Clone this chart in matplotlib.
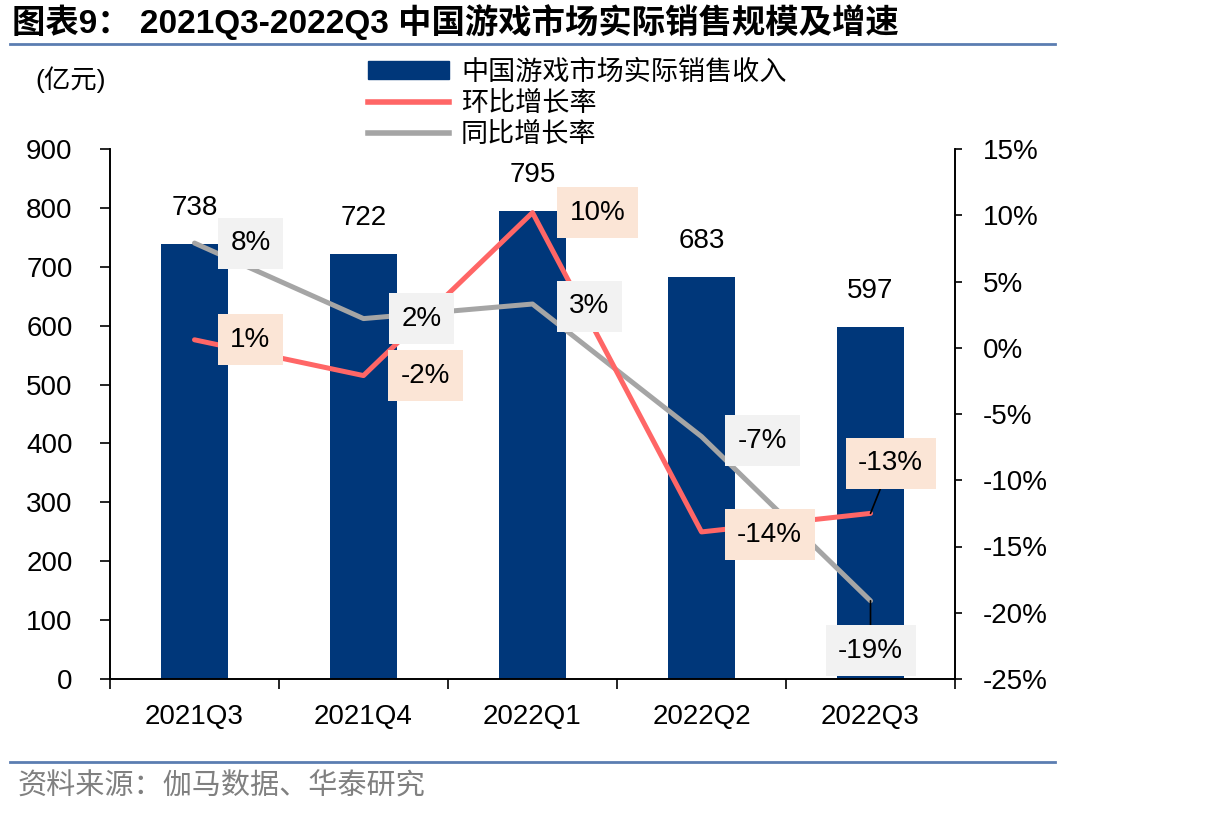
import matplotlib
matplotlib.use("Agg")
import matplotlib.pyplot as plt
from matplotlib.patches import Patch
from matplotlib.lines import Line2D
import numpy as np

plt.rcParams['font.family'] = ['Liberation Sans', 'Noto Sans CJK SC', 'DejaVu Sans']

# -------------------------------------------------------------
# DATA
# -------------------------------------------------------------
quarters = ["2021Q3", "2021Q4", "2022Q1", "2022Q2", "2022Q3"]
revenue = [738, 722, 795, 683, 597]            # 亿元
qoq = [0.6, -2.1, 10.2, -13.9, -12.5]          # 环比增长率 %
yoy = [7.9, 2.2, 3.3, -6.7, -19.1]             # 同比增长率 %
qoq_labels = ["1%", "-2%", "10%", "-14%", "-13%"]
yoy_labels = ["8%", "2%", "3%", "-7%", "-19%"]

# label offsets (pixels) relative to the data point
qoq_offsets = [(56, 0), (62, 0), (65, 0), (68, -3), (20, 50)]
yoy_offsets = [(56, 0), (58, 0), (57, -2), (61, -4), (0, -50)]

NAVY = "#00377A"
RED = "#FF6666"
GRAY = "#A5A5A5"
PEACH = "#FBE5D6"
LIGHT = "#F2F2F2"
RULE = "#5B7DB1"

# -------------------------------------------------------------
# FIGURE
# -------------------------------------------------------------
fig = plt.figure(figsize=(12.06, 8.17), dpi=100)
ax = fig.add_axes([110 / 1206, 1 - 679 / 817, 845 / 1206, 530 / 817])
ax2 = ax.twinx()

x = np.arange(len(quarters))
ax.bar(x, revenue, width=0.4, color=NAVY, zorder=2)
for xi, v in zip(x, revenue):
    ax.annotate(str(v), (xi, v), xytext=(0, 36), textcoords="offset pixels",
                ha="center", va="center", fontsize=20)

ax.set_xlim(-0.5, len(quarters) - 0.5)
ax.set_ylim(0, 900)
ax.set_yticks(range(0, 901, 100))
ax.set_xticks(x)
ax.set_xticklabels(quarters, fontsize=20)
ax.set_xticks(np.arange(-0.5, len(quarters), 1), minor=True)
ax.tick_params(axis="x", which="major", length=0, pad=18)
ax.tick_params(axis="x", which="minor", length=7, width=1.2, direction="out")
ax.tick_params(axis="y", labelsize=20, length=7, width=1.2, pad=20)

ax2.set_ylim(-25, 15)
ax2.set_yticks(range(-25, 16, 5))
ax2.set_yticklabels([f"{t}%" for t in range(-25, 16, 5)])
ax2.tick_params(axis="y", labelsize=20, length=5, width=1.2, pad=15)

for a in (ax, ax2):
    a.spines["top"].set_visible(False)
    for s in ("left", "right", "bottom"):
        a.spines[s].set_linewidth(1.2)

ax2.plot(x, yoy, color=GRAY, lw=3.6, zorder=3, solid_capstyle="round")
ax2.plot(x, qoq, color=RED, lw=3.6, zorder=4, solid_capstyle="round")

def label(vals, texts, offsets, face):
    for xi, v, t, off in zip(x, vals, texts, offsets):
        lead = abs(off[1]) > 20
        ax2.annotate(t, (xi, v), xytext=off, textcoords="offset pixels",
                     ha="center", va="center", fontsize=20, zorder=6,
                     bbox=dict(boxstyle="square,pad=0.45", fc=face, ec="none"),
                     arrowprops=dict(arrowstyle="-", color="black", lw=1.2,
                                     shrinkA=0, shrinkB=0) if lead else None)

label(yoy, yoy_labels, yoy_offsets, LIGHT)
label(qoq, qoq_labels, qoq_offsets, PEACH)

# legend
handles = [Patch(color=NAVY), Line2D([], [], color=RED, lw=4),
           Line2D([], [], color=GRAY, lw=4)]
names = ["中国游戏市场实际销售收入", "环比增长率", "同比增长率"]
fig.legend(handles, names, loc="upper left", bbox_to_anchor=(354 / 1206, 1 - 46 / 817),
           frameon=False, fontsize=19.5, handlelength=3.0, handleheight=0.6,
           labelspacing=0.2, handletextpad=0.45, borderpad=0)

# unit text
fig.text(35 / 1206, 1 - 80 / 817, "(亿元)", fontsize=19, va="center", ha="left")

# title and rules
fig.text(12 / 1206, 1 - 22 / 817, "图表9： 2021Q3-2022Q3 中国游戏市场实际销售规模及增速",
         fontsize=24, fontweight="bold", va="center", ha="left")
fig.add_artist(Line2D([10 / 1206, 1055 / 1206], [1 - 44 / 817] * 2, color=RULE, lw=2))
fig.add_artist(Line2D([10 / 1206, 1055 / 1206], [1 - 762 / 817] * 2, color=RULE, lw=2))
fig.text(18 / 1206, 1 - 787 / 817, "资料来源：伽马数据、华泰研究", fontsize=21,
         color="#808080", va="center", ha="left")

fig.savefig("out.png", dpi=100)
